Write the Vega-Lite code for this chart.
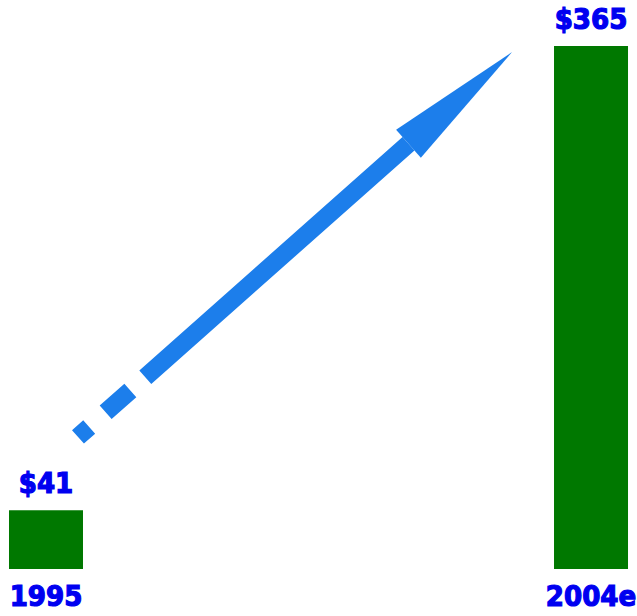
{
  "$schema": "https://vega.github.io/schema/vega-lite/v6.json",
  "width": 637,
  "height": 523,
  "autosize": {"type": "none"},
  "padding": {"left": 0, "right": 0, "top": 46, "bottom": 47},
  "background": "white",
  "config": {"view": {"stroke": null}},
  "datasets": {
    "bars": [
      {"year": 1995, "label": "1995", "value": 41},
      {"year": 2004, "label": "2004e", "value": 365}
    ],
    "shaft": [
      {"year": 1995.528, "value": 92.2},
      {"year": 2000.986, "value": 296.8}
    ],
    "head": [
      {"year": 2001.841, "value": 328.8}
    ]
  },
  "layer": [
    {
      "data": {"name": "bars"},
      "mark": {"type": "bar", "width": 74, "color": "#007800"},
      "encoding": {
        "x": {"field": "year", "type": "quantitative", "scale": {"domain": [1994.2404, 2004.7594], "nice": false, "zero": false, "padding": 0}, "axis": null},
        "y": {"field": "value", "type": "quantitative", "scale": {"domain": [0, 365], "nice": false, "padding": 0}, "axis": null}
      }
    },
    {
      "data": {"name": "bars"},
      "mark": {"type": "text", "dy": -17, "baseline": "alphabetic", "font": "DejaVu Sans Condensed", "fontWeight": "bold", "fontSize": 29, "color": "#0000F0", "stroke": "#0000F0", "strokeWidth": 1.2},
      "encoding": {
        "x": {"field": "year", "type": "quantitative", "scale": {"domain": [1994.2404, 2004.7594], "nice": false, "zero": false, "padding": 0}, "axis": null},
        "y": {"field": "value", "type": "quantitative", "scale": {"domain": [0, 365], "nice": false, "padding": 0}, "axis": null},
        "text": {"field": "value", "type": "quantitative", "format": "$.0f"}
      }
    },
    {
      "data": {"name": "bars"},
      "mark": {"type": "text", "dy": 37, "baseline": "alphabetic", "font": "DejaVu Sans Condensed", "fontWeight": "bold", "fontSize": 29, "color": "#0000F0", "stroke": "#0000F0", "strokeWidth": 1.2},
      "encoding": {
        "x": {"field": "year", "type": "quantitative", "scale": {"domain": [1994.2404, 2004.7594], "nice": false, "zero": false, "padding": 0}, "axis": null},
        "y": {"datum": 0, "type": "quantitative", "scale": {"domain": [0, 365], "nice": false, "padding": 0}, "axis": null},
        "text": {"field": "label", "type": "nominal"}
      }
    },
    {
      "data": {"name": "shaft"},
      "mark": {"type": "line", "strokeWidth": 18, "strokeCap": "butt", "strokeDash": [15, 22, 33, 20, 2000, 1], "color": "#1C7EEB"},
      "encoding": {
        "x": {"field": "year", "type": "quantitative", "scale": {"domain": [1994.2404, 2004.7594], "nice": false, "zero": false, "padding": 0}, "axis": null},
        "y": {"field": "value", "type": "quantitative", "scale": {"domain": [0, 365], "nice": false, "padding": 0}, "axis": null}
      }
    },
    {
      "data": {"name": "head"},
      "mark": {"type": "point", "shape": "M1,0L-1,-0.27L-1,0.27Z", "size": 19127, "angle": 318.5, "filled": true, "opacity": 1, "strokeWidth": 0, "color": "#1C7EEB"},
      "encoding": {
        "x": {"field": "year", "type": "quantitative", "scale": {"domain": [1994.2404, 2004.7594], "nice": false, "zero": false, "padding": 0}, "axis": null},
        "y": {"field": "value", "type": "quantitative", "scale": {"domain": [0, 365], "nice": false, "padding": 0}, "axis": null}
      }
    }
  ]
}
